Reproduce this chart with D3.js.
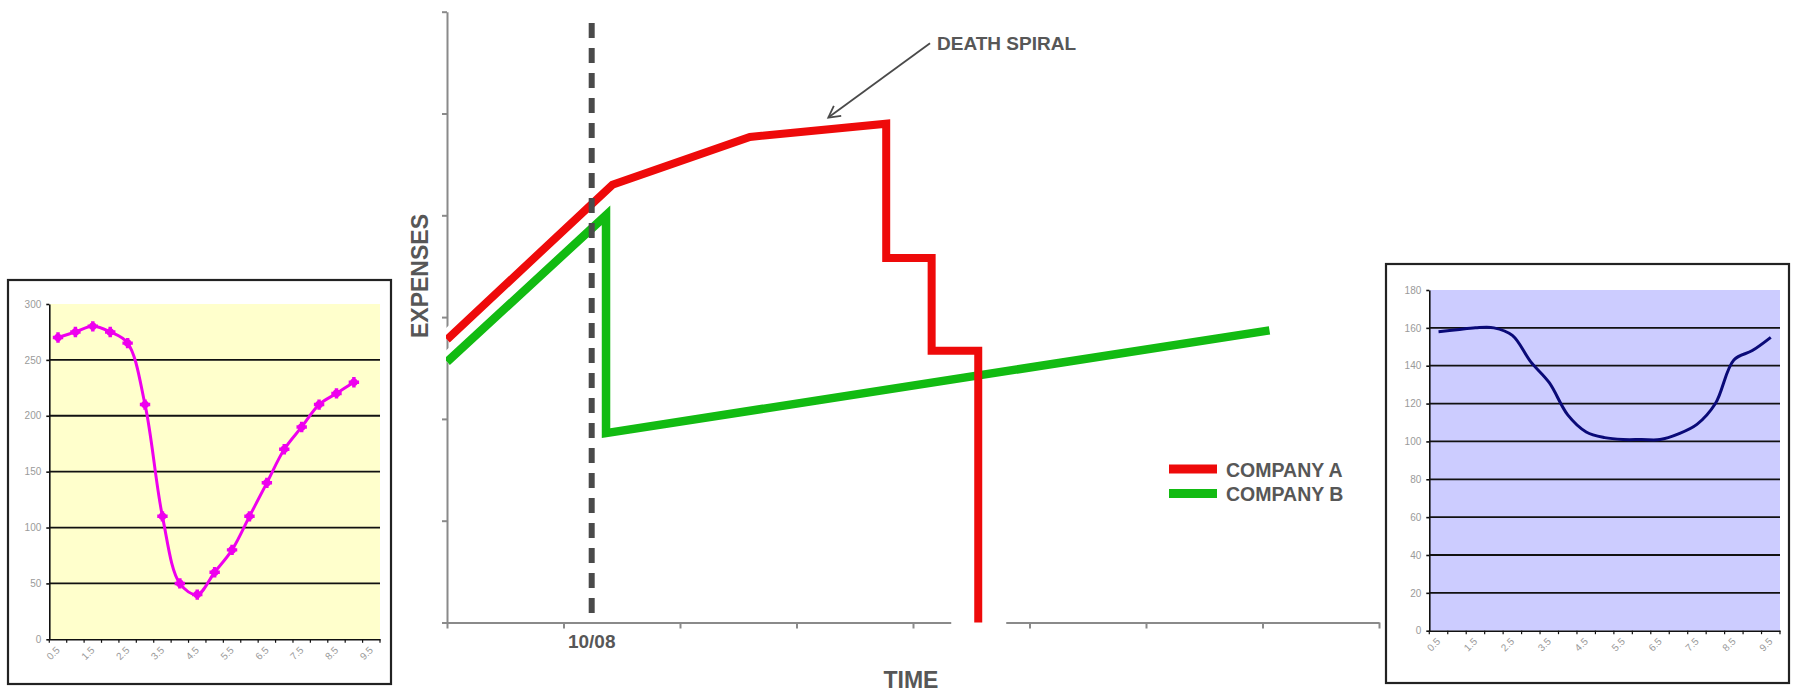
<!DOCTYPE html>
<html><head><meta charset="utf-8">
<script src="https://cdn.jsdelivr.net/npm/d3@7"></script>
<style>
html,body{margin:0;padding:0;background:#fff;}
svg{display:block;font-family:"Liberation Sans",Arial,sans-serif;}
</style></head><body>
<svg id="chart" width="1794" height="693"></svg>
<script>
// ---------- main chart data ----------
const timeTicks = [0, 1, 2, 3, 4, 5, 6, 7, 8];
const expenseTicks = [0, 1, 2, 3, 4, 5, 6];
const companyATime = [0, 1.42, 2.60, 3.77, 3.77, 4.16, 4.16, 4.56, 4.56];
const companyAExpenses = [2.78, 4.30, 4.77, 4.90, 3.58, 3.58, 2.67, 2.67, 0];
const companyBTime = [0, 1.365, 1.365, 7.06];
const companyBExpenses = [2.56, 4.00, 1.86, 2.87];
const seriesNames = ["COMPANY A", "COMPANY B"];
const seriesColors = ["#ee0a0a", "#12bb12"];
const markerTime = 1.242;
const markerLabel = "10/08";
const annotationText = "DEATH SPIRAL";
const annotationTip = [3.273, 4.96];
const annotationTail = [4.146, 5.69];
const xTitle = "TIME";
const yTitle = "EXPENSES";

// ---------- left inset data ----------
const leftCategories = ["0.5","1","1.5","2","2.5","3","3.5","4","4.5","5","5.5","6","6.5","7","7.5","8","8.5","9","9.5"];
const leftValues = [270, 275, 280, 275, 265, 210, 110, 50, 40, 60, 80, 110, 140, 170, 190, 210, 220, 230];
const leftTicks = [0, 50, 100, 150, 200, 250, 300];

// ---------- right inset data ----------
const rightCategories = ["0.5","1","1.5","2","2.5","3","3.5","4","4.5","5","5.5","6","6.5","7","7.5","8","8.5","9","9.5"];
const rightValues = [158, 159, 160, 160, 156, 142, 131, 114, 105, 102, 101, 101, 101, 104, 109, 120, 143, 148, 155];
const rightTicks = [0, 20, 40, 60, 80, 100, 120, 140, 160, 180];

const svg = d3.select("#chart");
const textGray = "#575757";

// ================= MAIN CHART =================
const x = d3.scaleLinear().domain([0, 8]).range([447, 1379]);
const y = d3.scaleLinear().domain([0, 6]).range([622.5, 11.7]);

const main = svg.append("g");

// axes
const gx = main.append("g").attr("transform", `translate(0,${y(0)})`)
  .call(d3.axisBottom(x).tickValues(timeTicks).tickSize(6).tickSizeOuter(0).tickFormat(""));
gx.selectAll("path,line").attr("stroke", "#8a8a8a").attr("stroke-width", 2);

const gy = main.append("g").attr("transform", `translate(${x(0)},0)`)
  .call(d3.axisLeft(y).tickValues(expenseTicks).tickSize(5).tickSizeOuter(0).tickFormat(""));
gy.selectAll("path,line").attr("stroke", "#8a8a8a").attr("stroke-width", 2);

// break in the time axis around company A's final drop
const lastA = companyATime[companyATime.length - 1];
main.append("rect").attr("x", x(lastA) - 27).attr("y", y(0) - 4)
  .attr("width", 55).attr("height", 9).attr("fill", "#fff");

const aPts = companyATime.map((t, i) => [t, companyAExpenses[i]]);
const bPts = companyBTime.map((t, i) => [t, companyBExpenses[i]]);
const line = d3.line().x(d => x(d[0])).y(d => y(d[1]));

// white halos where the series leave the expense axis
const defs = svg.append("defs");
defs.append("clipPath").attr("id", "haloClip").append("rect")
  .attr("x", x(0) - 8).attr("y", 0).attr("width", 14).attr("height", 693);
defs.append("clipPath").attr("id", "plotClip").append("rect")
  .attr("x", x(0) - 1).attr("y", 0).attr("width", 1794).attr("height", y(0) + 1);

[aPts, bPts].forEach(pts => {
  main.append("path").attr("d", line(pts)).attr("fill", "none")
    .attr("stroke", "#fff").attr("stroke-width", 18).attr("clip-path", "url(#haloClip)");
});

main.append("path").attr("d", line(bPts)).attr("fill", "none")
  .attr("stroke", seriesColors[1]).attr("stroke-width", 8.5)
  .attr("stroke-linejoin", "miter").attr("clip-path", "url(#plotClip)");
main.append("path").attr("d", line(aPts)).attr("fill", "none")
  .attr("stroke", seriesColors[0]).attr("stroke-width", 8)
  .attr("stroke-linejoin", "miter").attr("clip-path", "url(#plotClip)");

// dashed marker line
main.append("line")
  .attr("x1", x(markerTime)).attr("x2", x(markerTime))
  .attr("y1", y(5.89)).attr("y2", y(0))
  .attr("stroke", "#4a4a4a").attr("stroke-width", 6).attr("stroke-dasharray", "15,10");

main.append("text").attr("x", x(markerTime)).attr("y", 648)
  .attr("text-anchor", "middle").attr("font-size", 19).attr("font-weight", "bold")
  .attr("fill", textGray).text(markerLabel);

// axis titles
main.append("text").attr("x", 911).attr("y", 688)
  .attr("text-anchor", "middle").attr("font-size", 23).attr("font-weight", "bold")
  .attr("fill", textGray).text(xTitle);
main.append("text").attr("transform", "translate(428,276) rotate(-90)")
  .attr("text-anchor", "middle").attr("font-size", 23).attr("font-weight", "bold")
  .attr("fill", textGray).text(yTitle);

// annotation arrow
const tip = [x(annotationTip[0]), y(annotationTip[1])];
const tail = [x(annotationTail[0]), y(annotationTail[1])];
main.append("line").attr("x1", tail[0]).attr("y1", tail[1]).attr("x2", tip[0]).attr("y2", tip[1])
  .attr("stroke", "#4a4a4a").attr("stroke-width", 1.8);
const ang = Math.atan2(tail[1] - tip[1], tail[0] - tip[0]);
const hl = 13, ha = 0.5;
main.append("path")
  .attr("d", `M${tip[0] + hl * Math.cos(ang + ha)},${tip[1] + hl * Math.sin(ang + ha)}L${tip[0]},${tip[1]}L${tip[0] + hl * Math.cos(ang - ha)},${tip[1] + hl * Math.sin(ang - ha)}`)
  .attr("fill", "none").attr("stroke", "#4a4a4a").attr("stroke-width", 1.8);
main.append("text").attr("x", tail[0] + 7).attr("y", tail[1] + 7)
  .attr("font-size", 19).attr("font-weight", "bold").attr("fill", textGray).text(annotationText);

// legend
const legend = main.append("g");
seriesNames.forEach((name, i) => {
  const cy = 469 + i * 24.5;
  legend.append("rect").attr("x", 1169).attr("y", cy - 4.5).attr("width", 48).attr("height", 9)
    .attr("fill", seriesColors[i]);
  legend.append("text").attr("x", 1226).attr("y", cy + 7.5)
    .attr("font-size", 19.5).attr("font-weight", "bold").attr("fill", textGray).text(name);
});

// ================= INSETS =================
function inset(o) {
  const g = svg.append("g");
  g.append("rect").attr("x", o.box[0]).attr("y", o.box[1])
    .attr("width", o.box[2] - o.box[0]).attr("height", o.box[3] - o.box[1])
    .attr("fill", "#fff").attr("stroke", "#222").attr("stroke-width", 2.2);
  const xb = d3.scaleBand().domain(o.categories).range([o.plot[0], o.plot[2]]).padding(0);
  const yl = d3.scaleLinear().domain([0, d3.max(o.ticks)]).range([o.plot[3], o.plot[1]]);
  g.append("rect").attr("x", o.plot[0]).attr("y", o.plot[1])
    .attr("width", o.plot[2] - o.plot[0]).attr("height", o.plot[3] - o.plot[1]).attr("fill", o.bg);
  // gridlines
  o.ticks.filter(t => t > 0 && t < d3.max(o.ticks)).forEach(t => {
    g.append("line").attr("x1", o.plot[0]).attr("x2", o.plot[2]).attr("y1", yl(t)).attr("y2", yl(t))
      .attr("stroke", "#111").attr("stroke-width", 1.8);
  });
  // y axis
  const ay = g.append("g").attr("transform", `translate(${o.plot[0]},0)`)
    .call(d3.axisLeft(yl).tickValues(o.ticks).tickSize(3).tickSizeOuter(0).tickPadding(5));
  ay.selectAll("path,line").attr("stroke", "#111").attr("stroke-width", 1.6);
  ay.selectAll("text").attr("font-size", 10).attr("fill", "#9a9a9a")
    .attr("font-family", "'Liberation Sans',Arial,sans-serif");
  // x axis
  const ax = g.append("g").attr("transform", `translate(0,${o.plot[3]})`)
    .call(d3.axisBottom(xb).tickSize(0).tickFormat(""));
  ax.selectAll("path").attr("stroke", "#111").attr("stroke-width", 1.6);
  const bounds = o.categories.map(c => xb(c)).concat([o.plot[2]]);
  bounds.forEach(b => {
    g.append("line").attr("x1", b).attr("x2", b).attr("y1", o.plot[3]).attr("y2", o.plot[3] + 3.5)
      .attr("stroke", "#111").attr("stroke-width", 1.2);
  });
  o.categories.forEach((c, i) => {
    if (i % 2) return;
    const cx = xb(c) + xb.bandwidth() / 2;
    g.append("text").attr("transform", `translate(${cx},${o.plot[3] + 9}) rotate(-45)`)
      .attr("text-anchor", "end").attr("dy", "0.35em").attr("font-size", 10).attr("fill", "#9a9a9a")
      .text(c);
  });
  const pts = o.values.map((v, i) => [xb(o.categories[i]) + xb.bandwidth() / 2, yl(v)]);
  g.append("path").attr("d", d3.line().curve(d3.curveCatmullRom.alpha(0.5))(pts))
    .attr("fill", "none").attr("stroke", o.lineColor).attr("stroke-width", o.lineWidth);
  if (o.markers) {
    pts.forEach(p => {
      g.append("circle").attr("cx", p[0]).attr("cy", p[1]).attr("r", 3.8).attr("fill", o.lineColor);
      g.append("path").attr("transform", `translate(${p[0]},${p[1]})`)
        .attr("d", d3.symbol(d3.symbolCross, 60)()).attr("fill", o.lineColor);
    });
  }
}

inset({
  box: [8, 280, 391, 684], plot: [49.3, 304, 380, 639.3],
  categories: leftCategories, values: leftValues, ticks: leftTicks,
  bg: "#ffffcc", lineColor: "#ee00ee", lineWidth: 3, markers: true
});
inset({
  box: [1386, 264, 1789, 683], plot: [1429.3, 290, 1780, 630.7],
  categories: rightCategories, values: rightValues, ticks: rightTicks,
  bg: "#ccccff", lineColor: "#0a0a78", lineWidth: 3, markers: false
});
</script>
</body></html>
